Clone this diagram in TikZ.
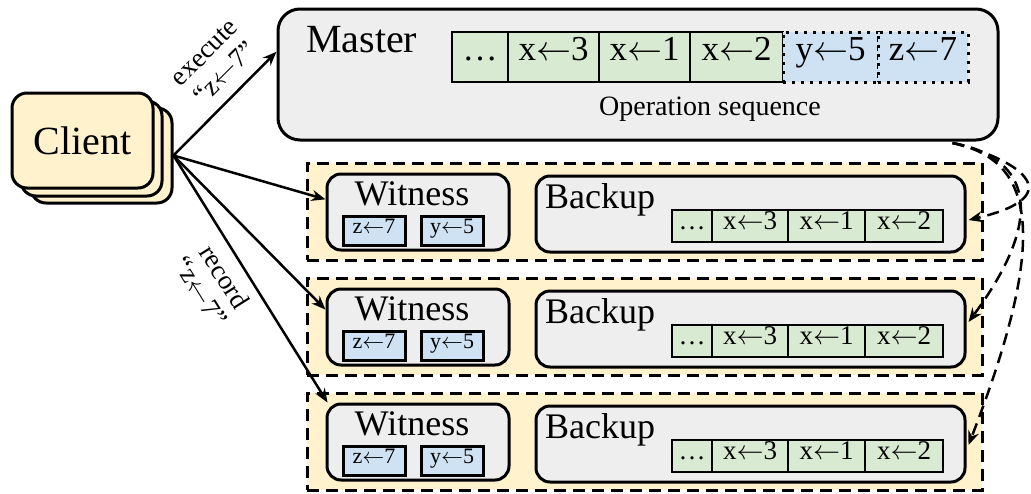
\RequirePackage{fix-cm}
\documentclass[tikz,border=0pt]{standalone}
\usepackage{fontspec}
\setmainfont{Liberation Serif}
\usetikzlibrary{arrows.meta,calc}
\definecolor{cyellow}{HTML}{FFF2CC}
\definecolor{cgray}{HTML}{EEEEEE}
\definecolor{cgreen}{HTML}{D9EAD3}
\definecolor{cblue}{HTML}{CFE2F3}
\newcommand\fsz[1]{\fontsize{#1}{#1}\selectfont}
\newcommand\larr{$\leftarrow$}
\begin{document}
\begin{tikzpicture}[x=1pt,y=-1pt,
  clientbox/.style={draw, line width=3pt, fill=cyellow, rounded corners=15pt, minimum width=141pt, minimum height=95pt, inner sep=0pt},
  graybox/.style={draw, line width=3pt, fill=cgray, inner sep=0pt},
  rowbox/.style={draw, line width=3pt, fill=cyellow, dash pattern=on 12pt off 7pt, minimum width=675pt, minimum height=97pt, inner sep=0pt},
  cellbase/.style={inner sep=0pt, text height=0.676em, text depth=0pt},
  gcell/.style={cellbase, draw, line width=2.5pt, fill=cgreen},
  mbcell/.style={cellbase, draw, line width=3pt, fill=cblue, dash pattern=on 3pt off 6pt, minimum height=50pt, font=\fsz{35}},
  wcell/.style={cellbase, draw, line width=3pt, fill=cblue, minimum width=62pt, minimum height=29pt, font=\fsz{22}},
  arr/.style={line width=2.5pt, -{Stealth[length=14pt,width=11pt]}},
  darr/.style={arr, dash pattern=on 12pt off 7pt},
  lbl/.style={inner sep=0pt},
]
\useasboundingbox (0,0) rectangle (1031,493);
% Client stack
\node[clientbox] (c3) at (101.5,155.5) {};
\node[clientbox] (c2) at (91.5,148.5) {};
\node[clientbox, font=\fsz{40}] (c1) at (82.5,140.5) {Client};
% Master
\node[graybox, rounded corners=22pt, minimum width=720pt, minimum height=131pt] (master) at (638,74.5) {};
\node[lbl, anchor=base west, font=\fsz{40}] (mlabel) at (306,52) {Master};
\node[gcell, minimum width=56pt, minimum height=50pt, font=\fsz{35}] (m0) at (480,57) {\ldots};
\node[gcell, minimum width=91pt, minimum height=50pt, font=\fsz{35}] (m1) at (553.5,57) {x\larr3};
\node[gcell, minimum width=91pt, minimum height=50pt, font=\fsz{35}] (m2) at (644.5,57) {x\larr1};
\node[gcell, minimum width=93pt, minimum height=50pt, font=\fsz{35}] (m3) at (736.5,57) {x\larr2};
\node[mbcell, minimum width=95pt] (m4) at (830.5,57) {y\larr5};
\node[mbcell, minimum width=90pt] (m5) at (923,57) {z\larr7};
\node[lbl, anchor=base, font=\fsz{28}] (opseq) at (710,115) {Operation sequence};
% Rows
\foreach \i in {1,2,3} {
  \pgfmathsetmacro{\dy}{115*(\i-1)}
  \node[rowbox] (row\i) at (644.5,211.5+\dy) {};
  \node[graybox, rounded corners=14pt, minimum width=182pt, minimum height=76pt] (w\i) at (418,212+\dy) {};
  \node[lbl, anchor=base, font=\fsz{36}] (wl\i) at (412,205+\dy) {Witness};
  \node[wcell] (wz\i) at (374,230.5+\dy) {z\larr7};
  \node[wcell] (wy\i) at (452,230.5+\dy) {y\larr5};
  \node[graybox, rounded corners=14pt, minimum width=429pt, minimum height=76pt] (bk\i) at (750.5,214+\dy) {};
  \node[lbl, anchor=base west, font=\fsz{36}] (bl\i) at (545,208+\dy) {Backup};
  \node[gcell, minimum width=40pt, minimum height=32pt, font=\fsz{27}] (bc0\i) at (692,226+\dy) {\ldots};
  \node[gcell, minimum width=76pt, minimum height=32pt, font=\fsz{27}] (bc1\i) at (750,226+\dy) {x\larr3};
  \node[gcell, minimum width=77pt, minimum height=32pt, font=\fsz{27}] (bc2\i) at (826.5,226+\dy) {x\larr1};
  \node[gcell, minimum width=78pt, minimum height=32pt, font=\fsz{27}] (bc3\i) at (904,226+\dy) {x\larr2};
}
% Client arrows
\draw[arr] (c3.east) -- ($(master.north west)!0.33!(master.south west)$);
\draw[arr] (c3.east) -- ($(w1.north west)!0.34!(w1.south west)$);
\draw[arr] (c3.east) -- ($(w2.north west)!0.28!(w2.south west)$);
\draw[arr] (c3.east) -- ($(w3.north west)+(2,0)$);
\node[lbl, rotate=45, align=center, font=\fontsize{27}{29}\selectfont] (lexec) at (215,63) {execute\\“z\larr7”};
\node[lbl, rotate=-58, align=center, font=\fontsize{27}{28}\selectfont] (lrec) at (213,284) {record\\“z\larr7”};
% Master to backups
\coordinate (ds) at ($(master.south east)+(-47,1.5)$);
\draw[darr] (ds) .. controls (1015,158) and (1075,195) .. ($(bk1.east)+(2,6)$);
\draw[darr] (ds) .. controls (1020,155) and (1055,205) .. ($(bk2.east)+(2,-7)$);
\draw[darr] (ds) .. controls (1035,160) and (1050,235) .. ($(bk3.east)+(2,1)$);
\end{tikzpicture}
\end{document}
